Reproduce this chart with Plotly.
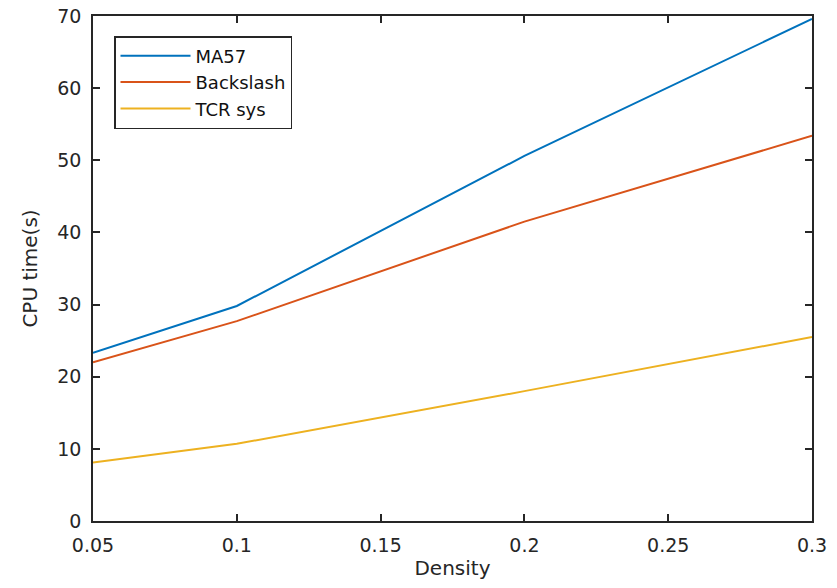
import plotly.graph_objects as go

density = [0.05, 0.1, 0.2, 0.3]
ma57 = [23.3, 29.8, 50.6, 69.6]
backslash = [22.0, 27.7, 41.5, 53.4]
tcr_sys = [8.1, 10.7, 18.0, 25.5]

x_ticks = [0.05, 0.1, 0.15, 0.2, 0.25, 0.3]
x_tick_labels = ["0.05", "0.1", "0.15", "0.2", "0.25", "0.3"]
y_ticks = [0, 10, 20, 30, 40, 50, 60, 70]

series = [
    ("MA57", ma57, "#0072BD"),
    ("Backslash", backslash, "#D95319"),
    ("TCR sys", tcr_sys, "#EDB120"),
]

fig = go.Figure()
for name, vals, color in series:
    fig.add_trace(go.Scatter(x=density, y=vals, mode="lines", name=name,
                             line=dict(color=color, width=2)))

font_family = "DejaVu Sans, Arial, sans-serif"
axis_common = dict(
    showgrid=False, zeroline=False, showline=True, linecolor="#262626",
    linewidth=1.5, mirror="ticks", ticks="inside", ticklen=7, tickwidth=1.5,
    tickcolor="#262626", tickfont=dict(size=19, color="#262626", family=font_family),
    automargin=False,
)

fig.update_layout(
    width=837, height=588,
    margin=dict(l=93, r=25, t=16, b=67),
    paper_bgcolor="white", plot_bgcolor="white",
    font=dict(family=font_family, color="#262626"),
    xaxis=dict(range=[0.05, 0.3], tickvals=x_ticks, ticktext=x_tick_labels,
               ticklabelstandoff=6,
               title=dict(text="Density", font=dict(size=20), standoff=6),
               **axis_common),
    yaxis=dict(range=[0, 70], tickvals=y_ticks, ticklabelstandoff=6,
               title=dict(text="CPU time(s)", font=dict(size=20), standoff=14),
               **axis_common),
    legend=dict(x=(114 - 93) / 719, y=1 - (36 - 16) / 505, xanchor="left", yanchor="top",
                bordercolor="#262626", borderwidth=1.5, bgcolor="white",
                font=dict(size=18, color="#111111"), itemwidth=70,
                entrywidth=110, entrywidthmode="pixels",
                tracegroupgap=0),
    showlegend=True,
)

fig.write_html("out.html")
